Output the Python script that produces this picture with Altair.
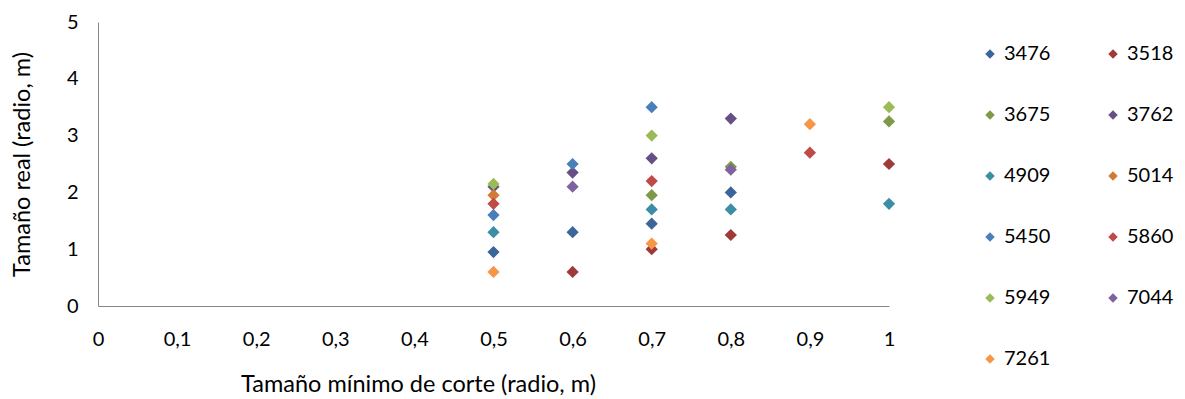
import altair as alt
import pandas as pd

series_names = ["3476", "3518", "3675", "3762", "4909", "5014",
                "5450", "5860", "5949", "7044", "7261"]
series_colors = ["#3C6699", "#9E3B38", "#7E9A48", "#664F85", "#3B8EA5", "#D07C36",
                 "#4A7EBB", "#BE4B48", "#9BBB59", "#7F63A1", "#F79646"]

x_3476 = [0.5, 0.6, 0.7, 0.8]
y_3476 = [0.95, 1.3, 1.45, 2.0]
x_3518 = [0.6, 0.7, 0.8, 1.0]
y_3518 = [0.6, 1.0, 1.25, 2.5]
x_3675 = [0.7, 0.8, 1.0]
y_3675 = [1.95, 2.45, 3.25]
x_3762 = [0.5, 0.6, 0.7, 0.8]
y_3762 = [2.1, 2.35, 2.6, 3.3]
x_4909 = [0.5, 0.7, 0.8, 1.0]
y_4909 = [1.3, 1.7, 1.7, 1.8]
x_5014 = [0.5]
y_5014 = [1.95]
x_5450 = [0.5, 0.6, 0.7]
y_5450 = [1.6, 2.5, 3.5]
x_5860 = [0.5, 0.7, 0.9]
y_5860 = [1.8, 2.2, 2.7]
x_5949 = [0.5, 0.7, 1.0]
y_5949 = [2.15, 3.0, 3.5]
x_7044 = [0.6, 0.8]
y_7044 = [2.1, 2.4]
x_7261 = [0.5, 0.7, 0.9]
y_7261 = [0.6, 1.1, 3.2]

xs = [x_3476, x_3518, x_3675, x_3762, x_4909, x_5014, x_5450, x_5860, x_5949, x_7044, x_7261]
ys = [y_3476, y_3518, y_3675, y_3762, y_4909, y_5014, y_5450, y_5860, y_5949, y_7044, y_7261]

x_ticks = [0, 0.1, 0.2, 0.3, 0.4, 0.5, 0.6, 0.7, 0.8, 0.9, 1]
y_ticks = [0, 1, 2, 3, 4, 5]

rows = []
order = 0
for name, xv, yv in zip(series_names, xs, ys):
    for a, b in zip(xv, yv):
        rows.append({"serie": name, "x": a, "y": b, "ord": order})
        order += 1
df = pd.DataFrame(rows)

FONT = "Lato"

chart = alt.Chart(df).mark_point(shape="diamond", filled=True, opacity=1, size=150).encode(
    x=alt.X("x:Q", scale=alt.Scale(domain=[0, 1], nice=False, zero=False),
            axis=alt.Axis(values=x_ticks, labelExpr="replace(format(datum.value, '.1~f'), '.', ',')",
                          title="Tamaño mínimo de corte (radio, m)", grid=False, ticks=False,
                          labelFlush=False, labelOverlap=False,
                          domainColor="#868686", labelPadding=23, labelFontSize=20,
                          titleFontSize=23.5, titleFontWeight="normal", titleX=320, titleY=66,
                          titleAlign="center", labelFont=FONT, titleFont=FONT,
                          labelColor="#000000", titleColor="#000000")),
    y=alt.Y("y:Q", scale=alt.Scale(domain=[0, 5], nice=False),
            axis=alt.Axis(values=y_ticks, title="Tamaño real (radio, m)", grid=False, ticks=False,
                          labelFlush=False, labelOverlap=False,
                          domainColor="#868686", labelPadding=20, labelFontSize=20,
                          titleFontSize=23.5, titleFontWeight="normal", titlePadding=32,
                          labelFont=FONT, titleFont=FONT,
                          labelColor="#000000", titleColor="#000000")),
    color=alt.Color("serie:N", scale=alt.Scale(domain=series_names, range=series_colors),
                    legend=alt.Legend(title=None, orient="none", legendX=882, legendY=22,
                                      columns=2, direction="horizontal",
                                      symbolType="diamond", symbolSize=90,
                                      labelFontSize=20, labelFont=FONT, labelColor="#000000",
                                      rowPadding=41, columnPadding=52, labelOffset=4,
                                      symbolStrokeWidth=0)),
    order=alt.Order("ord:Q"),
).properties(
    width=791, height=284,
    padding={"left": 90, "top": 14, "right": 288, "bottom": 90},
    autosize=alt.AutoSizeParams(type="none"),
).configure(background="white").configure_view(strokeWidth=0)

chart.save("out.html", embed_options={"renderer": "svg", "actions": False})
